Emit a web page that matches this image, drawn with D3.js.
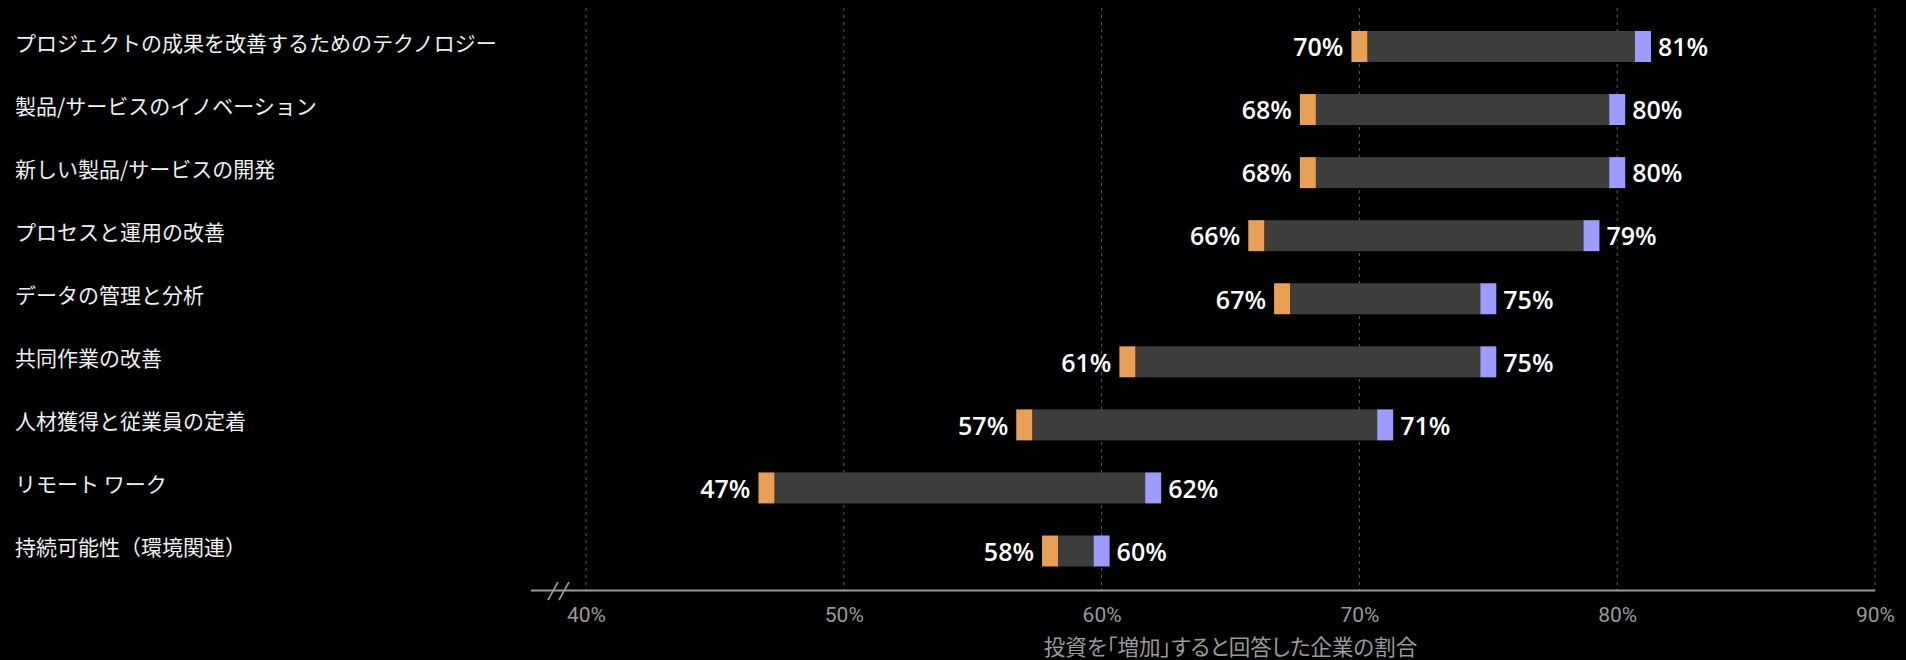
<!DOCTYPE html>
<html lang="ja">
<head>
  <meta charset="UTF-8">
  <title>投資を「増加」すると回答した企業の割合</title>
  <style>
    html, body { margin: 0; padding: 0; background: #000; }
    svg { display: block; }
  </style>
</head>
<body>
<div id="chart"></div>
<script src="https://d3js.org/d3.v7.min.js"></script>
<script type="text/javascript">
  const categories = [
    "プロジェクトの成果を改善するためのテクノロジー",
    "製品/サービスのイノベーション",
    "新しい製品/サービスの開発",
    "プロセスと運用の改善",
    "データの管理と分析",
    "共同作業の改善",
    "人材獲得と従業員の定着",
    "リモート ワーク",
    "持続可能性（環境関連）"
  ];
  const lowValues = [70, 68, 68, 66, 67, 61, 57, 47, 58];
  const highValues = [81, 80, 80, 79, 75, 75, 71, 62, 60];
  const tickValues = [40, 50, 60, 70, 80, 90];
  const axisTitle = "投資を「増加」すると回答した企業の割合";

  const width = 1906, height = 660;
  const svg = d3.select("#chart").append("svg")
    .attr("width", width)
    .attr("height", height)
    .style("background", "#000");

  const x = d3.scaleLinear().domain([40, 90]).range([586, 1875]);
  const y = d3.scalePoint().domain(categories).range([46.5, 551]);
  const axisY = 590.5;
  const barH = 31, capW = 16;

  // dotted grid lines
  svg.append("g").selectAll("line")
    .data(tickValues)
    .join("line")
    .attr("x1", d => x(d)).attr("x2", d => x(d))
    .attr("y1", 8).attr("y2", axisY)
    .attr("stroke", "#5a5a5a")
    .attr("stroke-width", 1)
    .attr("stroke-dasharray", "3,4");

  // x axis
  const axis = svg.append("g")
    .attr("transform", `translate(0,${axisY})`)
    .call(d3.axisBottom(x).tickValues(tickValues).tickFormat(d => d + "%").tickSize(0).tickPadding(17));
  axis.select(".domain").remove();
  axis.selectAll("text")
    .attr("fill", "#9a9a9a")
    .style("font-family", "Roboto, 'Noto Sans', sans-serif")
    .style("font-size", "21px");

  svg.append("line")
    .attr("x1", 531).attr("x2", 1875)
    .attr("y1", axisY).attr("y2", axisY)
    .attr("stroke", "#9a9a9a")
    .attr("stroke-width", 2);

  // axis break marks
  svg.append("g").selectAll("line")
    .data([0, 11])
    .join("line")
    .attr("x1", d => 548 + d).attr("x2", d => 558 + d)
    .attr("y1", 600).attr("y2", 582)
    .attr("stroke", "#9a9a9a")
    .attr("stroke-width", 1.6);

  svg.append("text")
    .attr("x", (x(40) + x(90)) / 2)
    .attr("y", 655)
    .attr("text-anchor", "middle")
    .attr("fill", "#9a9a9a")
    .style("font-family", "'Noto Sans CJK JP', sans-serif")
    .style("font-size", "21.5px")
    .style("font-feature-settings", "'palt'")
    .text(axisTitle);

  // category labels
  svg.append("g").selectAll("text")
    .data(categories)
    .join("text")
    .attr("x", 15)
    .attr("y", d => y(d) - 5)
    .attr("dominant-baseline", "central")
    .attr("fill", "#f0f0f0")
    .style("font-family", "'Noto Sans CJK JP', sans-serif")
    .style("font-size", "21px")
    .text(d => d);

  const rows = categories.map((c, i) => ({ c, lo: lowValues[i], hi: highValues[i] }));
  const g = svg.append("g").selectAll("g")
    .data(rows)
    .join("g")
    .attr("transform", d => `translate(0,${y(d.c)})`);

  g.append("rect")
    .attr("x", d => x(d.lo) + capW / 2)
    .attr("width", d => x(d.hi) - x(d.lo) - capW)
    .attr("y", -barH / 2).attr("height", barH)
    .attr("fill", "#3d3d3b");

  g.append("rect")
    .attr("x", d => x(d.lo) - capW / 2)
    .attr("width", capW)
    .attr("y", -barH / 2).attr("height", barH)
    .attr("fill", "#e8a057");

  g.append("rect")
    .attr("x", d => x(d.hi) - capW / 2)
    .attr("width", capW)
    .attr("y", -barH / 2).attr("height", barH)
    .attr("fill", "#9e9bff");

  const labelStyle = sel => sel
    .attr("fill", "#fff")
    .attr("dy", "0.35em")
    .style("font-family", "'Open Sans', 'Noto Sans', sans-serif")
    .style("font-size", "25px")
    .style("font-weight", "600");

  g.append("text")
    .attr("x", d => x(d.lo) - capW / 2 - 8)
    .attr("y", 1)
    .attr("text-anchor", "end")
    .call(labelStyle)
    .text(d => d.lo + "%");

  g.append("text")
    .attr("x", d => x(d.hi) + capW / 2 + 7)
    .attr("y", 1)
    .attr("text-anchor", "start")
    .call(labelStyle)
    .text(d => d.hi + "%");
</script>
</body>
</html>
